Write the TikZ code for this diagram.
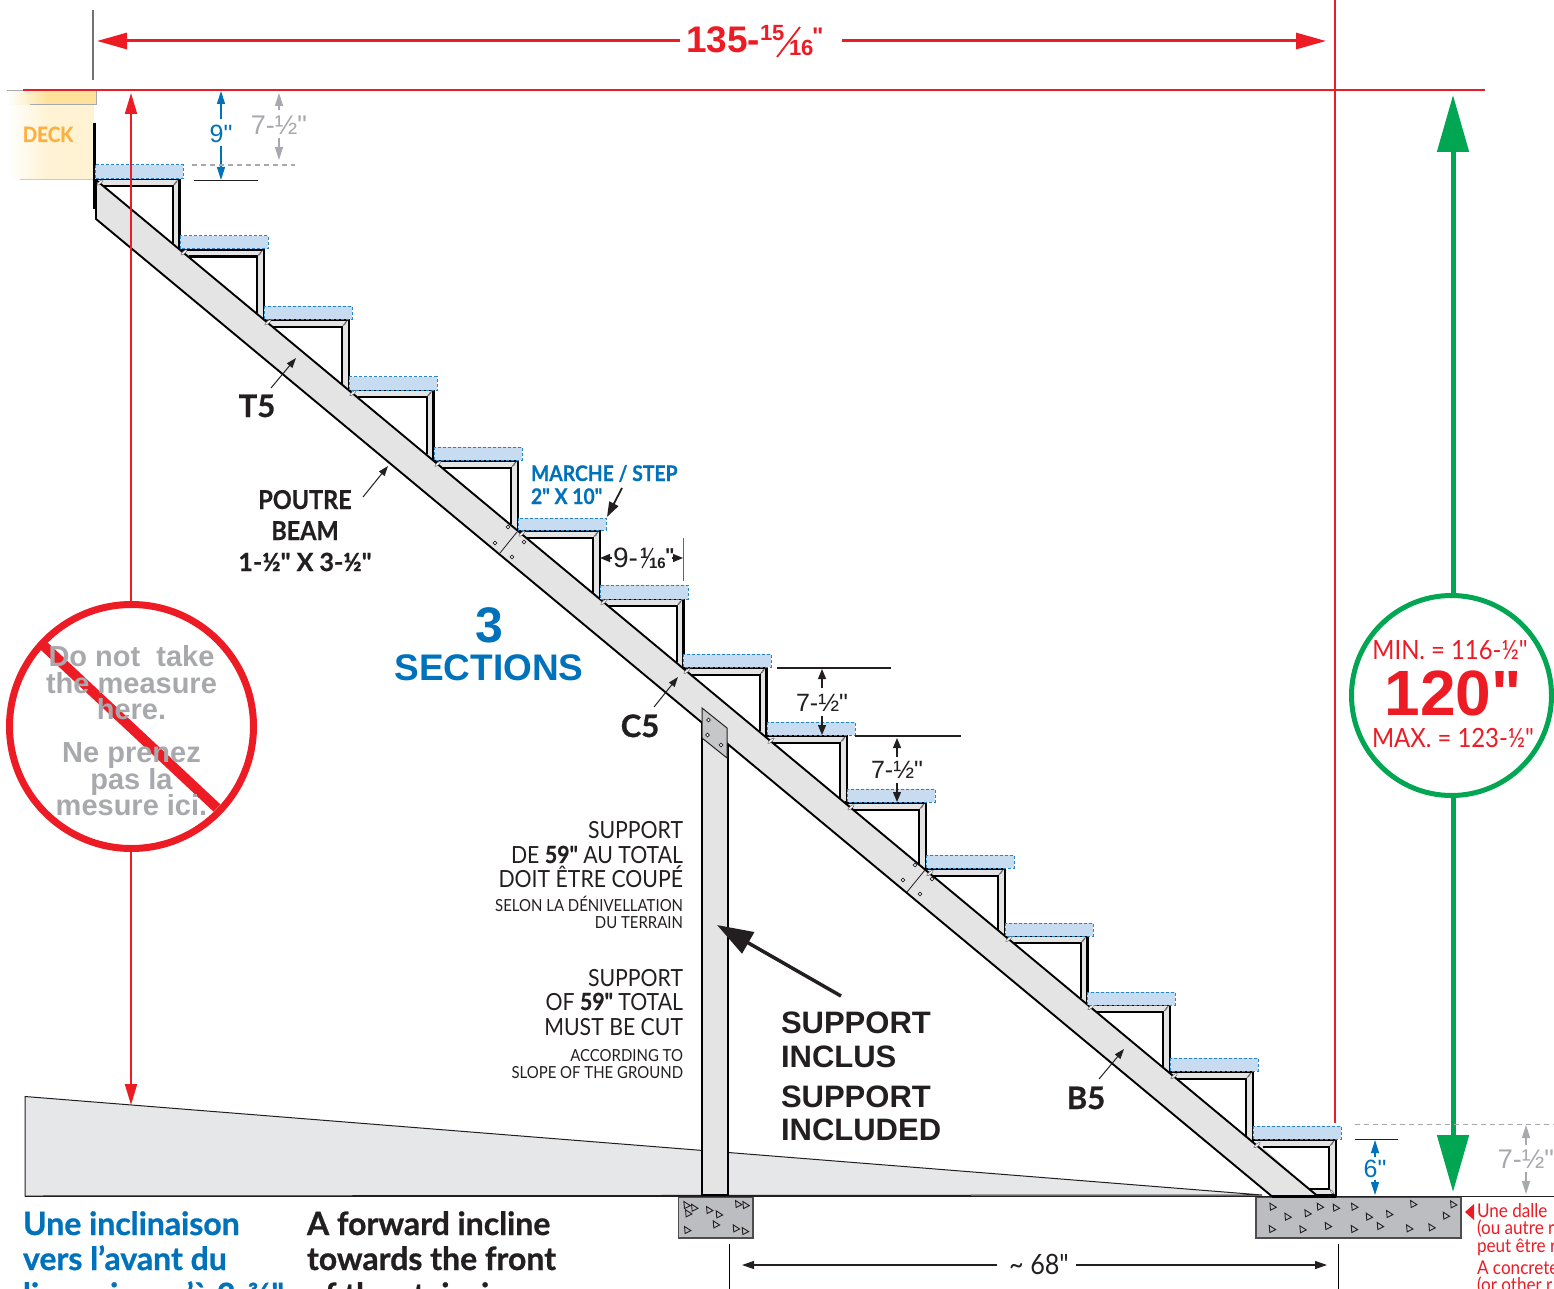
\documentclass[tikz,border=0pt]{standalone}
\usepackage{fontspec}
\setmainfont{Liberation Sans}
\newfontfamily\my[FakeStretch=0.9,BoldFeatures={FakeStretch=0.9,FakeBold=0.6}]{Lato}
\newfontfamily\myw[BoldFeatures={FakeBold=0.8}]{Lato}
\newfontfamily\hel{Liberation Sans}
\usetikzlibrary{arrows.meta}
\definecolor{rd}{HTML}{ED1C24}
\definecolor{gn}{HTML}{00A651}
\definecolor{bl}{HTML}{0072BC}
\definecolor{gy}{HTML}{A7A9AC}
\definecolor{dk}{HTML}{231F20}
\definecolor{beamc}{HTML}{E4E4E4}
\definecolor{tread}{HTML}{C8DCF1}
\definecolor{conc}{HTML}{BCBDC0}
\definecolor{wedge}{HTML}{E6E7E8}
\definecolor{cream}{HTML}{FFF3D3}
\definecolor{creamb}{HTML}{FFE29A}
\definecolor{deckt}{HTML}{FBB040}
\newcommand{\fs}[1]{\fontsize{#1}{#1}\selectfont}
\tikzset{
 txt/.style={inner sep=0pt,outer sep=0pt,anchor=base},
 txtl/.style={inner sep=0pt,outer sep=0pt,anchor=base west},
 txtr/.style={inner sep=0pt,outer sep=0pt,anchor=base east},
 dimb/.style={bl,line width=1.2pt,-{Triangle[length=13pt,width=8pt]}},
 dimg/.style={gy,line width=1.2pt,-{Triangle[length=13pt,width=8pt]}},
 dimk/.style={dk,line width=1.2pt,-{Triangle[length=10pt,width=8pt]}},
 lead/.style={dk,line width=1pt,-{Triangle[length=10pt,width=7pt]}},
 tick/.style={dk,line width=1.3pt},
 tri/.style={draw=dk,line width=.9pt,fill=conc},
 hole/.style={draw=dk,line width=.7pt,fill=white},
 sliver/.style={draw=dk!70,line width=.5pt,fill=white},
}
\newcommand{\trg}[2]{\draw[tri] (#1-2.8,#2-3.5) -- (#1+3.6,#2+.6) -- (#1-2.2,#2+3.5) -- cycle;}
\begin{document}
\begin{tikzpicture}[x=1pt,y=-1pt]
\useasboundingbox (0,0) rectangle (1554,1289);
\clip (0,0) rectangle (1554,1289);
\fill[white] (0,0) rectangle (1554,1289);
% deck: stepped fade from white into the deck colours
\fill[cream] (48,105) rectangle (94,180);
\fill[creamb] (48,91) rectangle (96,105);
\foreach \i in {0,1,...,20}{
 \pgfmathsetmacro\pc{\i*5}
 \pgfmathsetmacro\xs{7+\i*2}
 \fill[cream!\pc!white] (\xs,105) rectangle (\xs+2.3,180);
 \fill[creamb!\pc!white] (\xs,91) rectangle (\xs+2.3,105);
}
\draw[gy,line width=1pt] (30,105) -- (96,105) -- (96,91);
\draw[gy,line width=1pt] (7,90.5) -- (23,90.5);
\draw[gy!60,line width=1pt] (20,180) -- (94,180);
\node[txt,font=\my\bfseries\fs{21},text=deckt] (deck) at (48,142) {DECK};
% ground wedge
\draw[fill=wedge,draw=dk,line width=1pt] (25,1096.5) -- (1262,1195) -- (25,1196) -- cycle;
% footings
\draw[fill=conc,draw=dk!80,line width=1.2pt] (678.5,1197) rectangle (753,1238);
\draw[fill=conc,draw=dk!80,line width=1.2pt] (1256,1197) rectangle (1461,1238);
\foreach \a/\b in {80/225,103/233,85/250,148/240,177/253,168/283,82/300,235/222,257/225,228/295,255/303}{
 \trg{660+\a/3}{1130+\b/3}}
\foreach \a/\b in {368/500,413/530,473/520,510/500,558/503,613/500,657/530,718/522,790/492,910/493,888/527,366/567,458/568,534/558,612/567,690/558,778/565,845/562}{
 \trg{1150+\a/3}{1040+\b/3}}
\draw[dk,line width=1.6pt] (25,1196.5) -- (1554,1196.5);
% post
\draw[fill=beamc,draw=black,line width=2pt] (701.5,715) rectangle (728,1195);
% frames
\foreach \xa/\yt/\xb in {
 95/179/179.5, 180/249.5/264, 264/319.5/349, 349/390/433.5, 434/460.5/518,
 518/530.5/600, 600/599/683.5, 683/667.5/766.5, 767/735.5/847, 847/802.5/926,
 926/868.5/1005, 1005/936/1087.5, 1087/1005/1170, 1170/1071.5/1253}{
 \pgfmathsetmacro\xl{97+(\yt-180)/0.832}
 \pgfmathsetmacro\yb{180+0.832*(\xb-97)}
 \pgfmathsetmacro\xli{97+(\yt+7-180)/0.832}
 \pgfmathsetmacro\xri{\xb-7}
 \pgfmathsetmacro\ybi{180+0.832*(\xri-97)}
 \pgfmathsetmacro\yti{\yt+7}
 \draw[fill=beamc,draw=black,line width=2.6pt,line join=miter] (\xl,\yt) -- (\xb,\yt) -- (\xb,\yb);
 \draw[fill=white,draw=black,line width=2pt] (\xli,\yti) -- (\xri,\yti) -- (\xri,\ybi);
 \draw[sliver] (\xri+1,\yti-1) -- (\xri+3.5,\yti-4.5) -- (\xri+5,\yti-5.5) -- (\xri+3,\yti-2) -- cycle;
}
% last frame with rail
\draw[fill=beamc,draw=black,line width=2.6pt] (1253,1139.5) -- (1336,1139.5) -- (1336,1195.5) -- (1300,1195.5);
\draw[fill=white,draw=black,line width=2pt] (1263,1146.5) -- (1329,1146.5) -- (1329,1188.5) -- (1308,1188.5);
\draw[sliver] (1330,1145.5) -- (1332.5,1142) -- (1334,1141) -- (1332,1144.5) -- cycle;
\draw[sliver] (1330,1189.5) -- (1332.5,1191) -- (1334,1194) -- (1331.5,1193) -- cycle;
% beam
\draw[fill=beamc,draw=black,line width=1.9pt,line join=round] (96,180) -- (1317.5,1196) -- (1271.5,1196) -- (96,219) -- cycle;
\draw[black,line width=3pt] (1272,1196) -- (1336,1196);
\draw[black,line width=2.6pt] (94.5,123) -- (94.5,209);
% slivers at joints
\foreach \xx in {100,184,268,353,438,522,604,687,771,851,930,1009,1091,1174,1257}{
 \pgfmathsetmacro\yy{180+0.832*(\xx-97)}
 \draw[sliver,rotate around={40:(\xx,\yy)}] (\xx,\yy) ellipse (4pt and 1.2pt);
}
% splices
\draw[dk,line width=.8pt] (517,532) -- (500,553);
\draw[dk,line width=.8pt] (925,870) -- (907,892);
\foreach \a/\b in {508/527,524/542,495/543,512/557,915/865,932/879,903/880,920/894}{
 \draw[hole] (\a,\b) circle (1.9pt);}
% gusset
\draw[fill=conc!85!white,draw=dk,line width=1pt] (702,708) -- (727,728) -- (727,758) -- (702,738) -- cycle;
\foreach \a/\b in {708.5/720,707.5/735,721/745}{\draw[hole] (\a,\b) circle (1.9pt);}
% treads
\foreach \xa/\ya/\yb in {95/165/179,180/236/249,264/306/319,349/376.5/390,434/447/460,518/518/530,600/585/599,683/654/667,767/722/735,847/789/802,926/855/868,1005/923/936,1087/992/1005,1170/1058/1071,1253/1126/1139}{
 \draw[fill=tread,draw=bl!85!white,line width=1pt,dash pattern=on 3pt off 2pt] (\xa,\ya) rectangle (\xa+88,\yb);
}
% top red lines
\draw[rd,line width=2pt] (23,90) -- (1485,90);
\draw[rd,line width=2pt] (1334.5,0) -- (1334.5,1123);
\draw[gy!60!dk,line width=1.2pt] (93,10) -- (93,80);
\coordinate (topL) at (97,41); \coordinate (topLe) at (680,41);
\coordinate (topR) at (1326,41); \coordinate (topRe) at (842,41);
\draw[rd,line width=3pt,-{Triangle[length=30pt,width=16pt]}] (topLe) -- (topL);
\draw[rd,line width=3pt,-{Triangle[length=30pt,width=16pt]}] (topRe) -- (topR);
\node[txtl,font=\hel\bfseries\fs{37},text=rd] (dA) at (686,53) {135-};
\node[txtl,font=\hel\bfseries\fs{22},text=rd] (dB) at (760,41) {15};
\node[txtl,font=\hel\bfseries\fs{22},text=rd] (dC) at (789,56) {16};
\node[txtl,font=\hel\bfseries\fs{24},text=rd] (dD) at (812,45) {"};
\draw[rd,line width=1.8pt] (777,57) -- (800,27);
% red no-measure arrow
\coordinate (rTop) at (131,93); \coordinate (rBot) at (131,1105);
\draw[rd,line width=2pt,-{Triangle[length=21pt,width=12pt]}] (131,603) -- (rTop);
\draw[rd,line width=2pt,-{Triangle[length=21pt,width=12pt]}] (131,850) -- (rBot);
\draw[rd,line width=7pt] (131.5,726.5) circle (122pt);
\draw[rd,line width=10pt] (44,646) -- (217,808);
\begin{scope}[font=\hel\bfseries\fs{29},text=gy]
\node[txt] (n1) at (131.5,666) {Do not\ \ take};
\node[txt] (n2) at (131.5,693) {the measure};
\node[txt] (n3) at (131.5,719) {here.};
\node[txt] (n4) at (131.5,762) {Ne prenez};
\node[txt] (n5) at (131.5,789) {pas la};
\node[txt] (n6) at (131.5,815) {mesure ici.};
\end{scope}
% green
\coordinate (gTop) at (1453,95); \coordinate (gBot) at (1453,1192);
\draw[gn,line width=5pt,-{Triangle[length=57pt,width=31pt]}] (1453,596) -- (gTop);
\draw[gn,line width=5pt,-{Triangle[length=57pt,width=31pt]}] (1453,795) -- (gBot);
\draw[gn,line width=5pt] (1451.5,695.5) circle (100pt);
\node[txt,font=\my\fs{26.5},text=rd] (gA) at (1450,659) {MIN. = 116-½"};
\node[txt,font=\hel\bfseries\fs{64},text=rd] (gB) at (1453,715) {120"};
\node[txt,font=\my\fs{26.5},text=rd] (gC) at (1453,747) {MAX. = 123-½"};
% 9"
\coordinate (a9t) at (221,91); \coordinate (a9b) at (221,180);
\draw[dimb] (221,119) -- (a9t);
\draw[dimb] (221,146) -- (a9b);
\node[txt,font=\hel\fs{25},text=bl] (t9) at (221,143) {9"};
\draw[tick] (194,180.5) -- (258,180.5);
\draw[gy,line width=1.2pt,dash pattern=on 5pt off 4pt] (192,165) -- (295,165);
\coordinate (g1t) at (279,93); \coordinate (g1b) at (279,160);
\draw[dimg] (279,110) -- (g1t);
\draw[dimg] (279,138) -- (g1b);
\node[txt,font=\hel\fs{27},text=gy] (g1) at (279,135) {7-½"};
% labels
\node[txt,font=\myw\bfseries\fs{31},text=dk] (T5) at (257,417) {T5};
\coordinate (T5a) at (271,388); \coordinate (T5b) at (296,358);
\draw[lead] (T5a) -- (T5b);
\node[txt,font=\my\bfseries\fs{26},text=dk] (p1) at (305,509) {POUTRE};
\node[txt,font=\my\bfseries\fs{26},text=dk] (p2) at (305,540) {BEAM};
\node[txt,font=\myw\bfseries\fs{25},text=dk] (p3) at (305,571) {1-½" X 3-½"};
\coordinate (Pa) at (363,497); \coordinate (Pb) at (388,466);
\draw[lead] (Pa) -- (Pb);
\node[txt,font=\hel\bfseries\fs{50},text=bl] (s3) at (489,642) {3};
\node[txt,font=\hel\bfseries\fs{37},text=bl] (sS) at (489,680) {SECTIONS};
\node[txtl,font=\my\bfseries\fs{21.5},text=bl] (m1) at (531,481) {MARCHE / STEP};
\node[txtl,font=\my\bfseries\fs{21.5},text=bl] (m2) at (531,504) {2" X 10"};
\coordinate (Ma) at (622,488); \coordinate (Mb) at (607,517);
\draw[dk,line width=1.8pt,-{Triangle[length=15pt,width=10pt]}] (Ma) -- (Mb);
% 9-1/16
\coordinate (wL) at (600,558); \coordinate (wR) at (683,558);
\draw[dk,line width=1.2pt,-{Triangle[length=10pt,width=8pt]}] (612,558) -- (wL);
\draw[dk,line width=1.2pt,-{Triangle[length=10pt,width=8pt]}] (672,558) -- (wR);
\node[txtl,font=\hel\fs{28},text=dk] (w1) at (613,567) {9-};
\node[txtl,font=\hel\bfseries\fs{15},text=dk] (w2) at (640,558) {1};
\node[txtl,font=\hel\bfseries\fs{15},text=dk] (w3) at (649,568) {16};
\node[txtl,font=\hel\bfseries\fs{20},text=dk] (w4) at (665,562) {"};
\draw[dk,line width=1.1pt] (642,568) -- (653,548);
\draw[dk!70,line width=1pt] (683,538) -- (683,581);
% risers
\draw[tick] (777,668) -- (891,668);
\draw[tick] (855,736) -- (961,736);
\coordinate (r1t) at (822,669); \coordinate (r1b) at (822,735);
\draw[dimk] (822,688) -- (r1t);
\draw[dimk] (822,716) -- (r1b);
\node[txt,font=\hel\fs{25},text=dk] (r1) at (822,711) {7-½"};
\coordinate (r2t) at (897,738); \coordinate (r2b) at (897,802);
\draw[dimk] (897,757) -- (r2t);
\draw[dimk] (897,783) -- (r2b);
\node[txt,font=\hel\fs{25},text=dk] (r2) at (897,778) {7-½"};
\node[txt,font=\myw\bfseries\fs{31},text=dk] (C5) at (640,737) {C5};
\coordinate (C5a) at (654,707); \coordinate (C5b) at (678,677);
\draw[lead] (C5a) -- (C5b);
\node[txt,font=\myw\bfseries\fs{31},text=dk] (B5) at (1086,1109) {B5};
\coordinate (B5a) at (1099,1079); \coordinate (B5b) at (1124,1049);
\draw[lead] (B5a) -- (B5b);
% support notes
\begin{scope}[text=dk]
\node[txtr,font=\my\fs{23.6}] (u1) at (683,838) {SUPPORT};
\node[txtr,font=\my\fs{23.6}] (u2) at (683,863) {DE \textbf{59"} AU TOTAL};
\node[txtr,font=\my\fs{23.6}] (u3) at (683,887) {DOIT ÊTRE COUPÉ};
\node[txtr,font=\my\fs{16.6}] (u4) at (683,911) {SELON LA DÉNIVELLATION};
\node[txtr,font=\my\fs{16.6}] (u5) at (683,928) {DU TERRAIN};
\node[txtr,font=\my\fs{23.6}] (v1) at (683,986) {SUPPORT};
\node[txtr,font=\my\fs{23.6}] (v2) at (683,1010) {OF \textbf{59"} TOTAL};
\node[txtr,font=\my\fs{23.6}] (v3) at (683,1035) {MUST BE CUT};
\node[txtr,font=\my\fs{16.6}] (v4) at (683,1061) {ACCORDING TO};
\node[txtr,font=\my\fs{16.6}] (v5) at (683,1078) {SLOPE OF THE GROUND};
\end{scope}
\coordinate (bigA) at (841,996); \coordinate (bigB) at (717,925);
\draw[dk,line width=3.5pt,-{Triangle[length=36pt,width=24pt]}] (bigA) -- (bigB);
\begin{scope}[font=\hel\bfseries\fs{31},text=dk]
\node[txtl] (i1) at (781,1033) {SUPPORT};
\node[txtl] (i2) at (781,1067) {INCLUS};
\node[txtl] (i3) at (781,1107) {SUPPORT};
\node[txtl] (i4) at (781,1140) {INCLUDED};
\end{scope}
% bottom-left texts
\begin{scope}[font=\myw\bfseries\fs{32}]
\node[txtl,text=bl] (b1) at (23,1235) {Une inclinaison};
\node[txtl,text=bl] (b2) at (23,1270) {vers l’avant du};
\node[txtl,text=bl] (b3) at (23,1306) {limon jusqu’à 2-¾"};
\node[txtl,text=dk] (c1) at (307,1235) {A forward incline};
\node[txtl,text=dk] (c2) at (307,1270) {towards the front};
\node[txtl,text=dk] (c3) at (307,1306) {of the stair rise};
\end{scope}
% 68
\draw[black,line width=1.6pt] (729.5,1244) -- (729.5,1289);
\draw[black,line width=1.6pt] (1338.5,1244) -- (1338.5,1289);
\coordinate (lL) at (742,1265); \coordinate (lR) at (1327,1265);
\draw[dk,line width=1.2pt,-{Triangle[length=12pt,width=8pt]}] (997,1265) -- (lL);
\draw[dk,line width=1.2pt,-{Triangle[length=12pt,width=8pt]}] (1076,1265) -- (lR);
\node[txt,font=\my\fs{28},text=dk] (l68) at (1039,1274) {\~{} 68"};
% 6"
\draw[tick] (1355,1139.5) -- (1398,1139.5);
\coordinate (s6t) at (1375,1140); \coordinate (s6b) at (1375,1195);
\draw[dimb] (1375,1157) -- (s6t);
\draw[dimb] (1375,1180) -- (s6b);
\node[txt,font=\hel\fs{25},text=bl] (s6) at (1375,1177) {6"};
\draw[gy,line width=1.2pt,dash pattern=on 5pt off 4pt] (1355,1124.5) -- (1554,1124.5);
\coordinate (g2t) at (1526,1125); \coordinate (g2b) at (1526,1194);
\draw[dimg] (1526,1145) -- (g2t);
\draw[dimg] (1526,1172) -- (g2b);
\node[txt,font=\hel\fs{27},text=gy] (g2) at (1526,1168) {7-½"};
% red note
\fill[rd] (1465,1212) -- (1474,1204) -- (1474,1220) -- cycle;
\begin{scope}[font=\my\fs{19},text=rd]
\node[txtl] (d1) at (1477,1217) {Une dalle};
\node[txtl] (d2) at (1477,1234) {(ou autre r};
\node[txtl] (d3) at (1477,1252) {peut être r};
\node[txtl] (d4) at (1477,1274) {A concrete};
\node[txtl] (d5) at (1477,1291) {(or other r};
\end{scope}
\end{tikzpicture}
\end{document}
